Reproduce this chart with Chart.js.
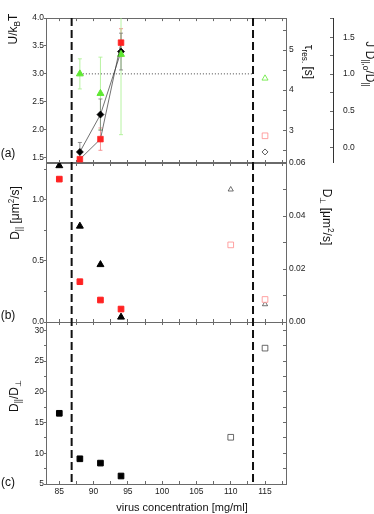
<!DOCTYPE html>
<html>
<head>
<meta charset="utf-8">
<script src="https://cdn.jsdelivr.net/npm/chart.js@4.4.0/dist/chart.umd.min.js"></script>
<style>
  html, body { margin: 0; padding: 0; background: #fff; }
  #wrap { position: relative; width: 374px; height: 514px; }
  #wrap canvas { position: absolute; left: 0; top: 0; }
</style>
</head>
<body>
<div id="wrap">
  <canvas id="chartA" width="374" height="514"></canvas>
  <canvas id="chartB" width="374" height="514"></canvas>
  <canvas id="chartC" width="374" height="514"></canvas>
</div>
<script>
// ---- data ----
const concFilled = [85, 88, 91, 94];
const concA = [88, 91, 94];
const concOpen = [110, 115];
const boundaries = [86.8, 113.25];

// (a) potential barrier U/kBT
const uDiamond = [1.60, 2.27, 3.40];
const uDiamondErr = [0.17, 0.28, 0.33];
const uSquare = [1.47, 1.83, 3.56];
const uSquareErr = [0.04, 0.20, 0.25];
const uTriangle = [3.00, 2.65, 3.35];
const uTriangleErr = [0.27, 0.65, 1.44];
const uLevel = 3.0;
const refX = [115];
const refTriangle = [2.92];
const refSquare = [1.89];
const refDiamond = [1.60];

// (b) diffusion coefficients
const dParTriangle = [1.28, 0.785, 0.47, 0.04];
const dParSquare = [1.17, 0.33, 0.18, 0.106];
const dPerpTriangle = [0.050, 0.0067];
const dPerpSquare = [0.0291, 0.0085];

// (c) anisotropy
const ratioFilled = [16.5, 9.1, 8.4, 6.3];
const ratioOpen = [12.6, 27.1];

// ticks
const xMajor = [85, 90, 95, 100, 105, 110, 115];
const xMinor = [87.5, 92.5, 97.5, 102.5, 107.5, 112.5, 117.5];
const uMajor = [1.5, 2.0, 2.5, 3.0, 3.5, 4.0];
const tauMajor = [3, 4, 5];
const tauMinor = [2.5, 3.5, 4.5, 5.5];
const jMajor = [0, 0.5, 1.0, 1.5];
const jMinor = [0.25, 0.75, 1.25, 1.75];
const dParMajor = [0, 0.5, 1.0];
const dParMinor = [0.25, 0.75, 1.25];
const dPerpMajor = [0, 0.02, 0.04, 0.06];
const dPerpMinor = [0.01, 0.03, 0.05];
const ratioMajor = [5, 10, 15, 20, 25, 30];
const ratioMinor = [7.5, 12.5, 17.5, 22.5, 27.5];

const FONT = '"Liberation Sans", Arial, sans-serif';
const FRAME = '#6a6a6a';
const RED = '#ff2222';
const GREEN = '#5fe832';

Chart.defaults.font.family = FONT;
Chart.defaults.font.size = 8.5;
Chart.defaults.color = '#222';
Chart.defaults.animation = false;

const pts = (xs, ys) => xs.map((x, i) => ({ x: x, y: ys[i] }));
const isIn = (arr, v) => arr.some(m => Math.abs(m - v) < 1e-9);

// x axis; height 0 unless it carries the labels (labels are clipped to the axis box)
function xAxis(pos, labels) {
  return {
    type: 'linear', position: pos, min: 83.06, max: 118.06, bounds: 'data',
    afterBuildTicks: s => { s.ticks = xMajor.concat(xMinor).sort((a, b) => a - b).map(v => ({ value: v })); },
    afterFit: s => { s.height = labels ? 30 : 0; },
    ticks: { display: labels, autoSkip: false, maxRotation: 0, padding: 6,
      callback: v => isIn(xMajor, v) ? String(v) : '' },
    grid: { drawOnChartArea: false, tickLength: -3, tickColor: FRAME },
    border: { display: true, color: FRAME, width: 1 }
  };
}

function yAxis(pos, min, max, major, minor, digits, width, extra) {
  const left = pos === 'left';
  return Object.assign({
    type: 'linear', position: pos, min: min, max: max, bounds: 'data',
    afterBuildTicks: s => { s.ticks = major.concat(minor).sort((a, b) => a - b).map(v => ({ value: v })); },
    afterFit: s => { s.width = width; },
    ticks: { autoSkip: false, padding: left ? 0 : 6,
      callback: v => (digits >= 0 && isIn(major, v)) ? v.toFixed(digits) : '' },
    grid: { drawOnChartArea: false, tickLength: left ? 2 : -3, tickColor: FRAME },
    border: { display: true, color: FRAME, width: 1 }
  }, extra || {});
}

const errorBars = {
  id: 'errorBars',
  beforeDatasetsDraw(chart) {
    const ctx = chart.ctx, area = chart.chartArea;
    ctx.save();
    ctx.beginPath();
    ctx.rect(area.left, area.top, area.width, area.height);
    ctx.clip();
    chart.data.datasets.forEach((ds, i) => {
      if (!ds.errors) return;
      const meta = chart.getDatasetMeta(i);
      const xs = chart.scales[meta.xAxisID], ys = chart.scales[meta.yAxisID];
      ctx.strokeStyle = ds.errorColor;
      ctx.lineWidth = 0.8;
      ds.data.forEach((p, j) => {
        const px = xs.getPixelForValue(p.x);
        const t = ys.getPixelForValue(p.y + ds.errors[j]);
        const b = ys.getPixelForValue(p.y - ds.errors[j]);
        ctx.beginPath();
        ctx.moveTo(px, t); ctx.lineTo(px, b);
        ctx.moveTo(px - 2, t); ctx.lineTo(px + 2, t);
        ctx.moveTo(px - 2, b); ctx.lineTo(px + 2, b);
        ctx.stroke();
      });
    });
    ctx.restore();
  }
};

function baseOptions(padding, scales) {
  return {
    responsive: false, animation: false, events: [],
    layout: { padding: padding, autoPadding: false },
    plugins: { legend: { display: false }, tooltip: { enabled: false } },
    scales: scales
  };
}

// ---- panel (a) ----
const chartA = new Chart(document.getElementById('chartA'), {
  type: 'scatter',
  data: {
    datasets: [
      { data: pts(concA, uSquare), yAxisID: 'yU', showLine: true, borderColor: '#333', borderWidth: 0.7,
        pointStyle: 'rect', pointRadius: 4, pointBackgroundColor: RED, pointBorderColor: RED,
        errors: uSquareErr, errorColor: '#f27a7a' },
      { data: pts(concA, uTriangle), yAxisID: 'yU', pointStyle: 'triangle', pointRadius: 4,
        pointBackgroundColor: GREEN, pointBorderColor: GREEN, errors: uTriangleErr, errorColor: '#a6f08a' },
      { data: pts(concA, uDiamond), yAxisID: 'yU', showLine: true, borderColor: '#333', borderWidth: 0.7,
        pointStyle: 'rectRot', pointRadius: 3.5, pointBackgroundColor: '#000', pointBorderColor: '#000',
        errors: uDiamondErr, errorColor: '#777' },
      { data: [{ x: concA[0], y: uLevel }, { x: boundaries[1], y: uLevel }], yAxisID: 'yU', showLine: true,
        borderColor: '#444', borderWidth: 1, borderDash: [1, 2], pointRadius: 0 },
      { data: pts(refX, refTriangle), yAxisID: 'yU', pointStyle: 'triangle', pointRadius: 3.5,
        pointBackgroundColor: '#fff', pointBorderColor: GREEN, pointBorderWidth: 0.8 },
      { data: pts(refX, refSquare), yAxisID: 'yU', pointStyle: 'rect', pointRadius: 4,
        pointBackgroundColor: '#fff', pointBorderColor: '#ff8a8a', pointBorderWidth: 0.8 },
      { data: pts(refX, refDiamond), yAxisID: 'yU', pointStyle: 'rectRot', pointRadius: 3,
        pointBackgroundColor: '#fff', pointBorderColor: '#333', pointBorderWidth: 0.8 }
    ]
  },
  options: baseOptions({ top: 4, bottom: 351, left: 0, right: 0 }, {
    x: xAxis('bottom', false),
    xTop: xAxis('top', false),
    yU: yAxis('left', 1.402, 4.0, uMajor, [], 1, 46),
    yTau: yAxis('right', 2.18, 5.80, tauMajor, tauMinor, 0, 47, { weight: 0 }),
    yJ: yAxis('right', -0.205, 1.76, jMajor, jMinor, 1, 41,
      { weight: 1, ticks: { autoSkip: false, padding: 13, callback: v => isIn(jMajor, v) ? v.toFixed(1) : '' },
        border: { display: true, color: '#333', width: 1 } })
  }),
  plugins: [errorBars]
});

// ---- panel (b) ----
const chartB = new Chart(document.getElementById('chartB'), {
  type: 'scatter',
  data: {
    datasets: [
      { data: pts(concFilled, dParSquare), yAxisID: 'yPar', pointStyle: 'rect', pointRadius: 4,
        pointBackgroundColor: RED, pointBorderColor: RED },
      { data: pts(concFilled, dParTriangle), yAxisID: 'yPar', pointStyle: 'triangle', pointRadius: 4,
        pointBackgroundColor: '#000', pointBorderColor: '#000' },
      { data: pts(concOpen, dPerpSquare), yAxisID: 'yPerp', pointStyle: 'rect', pointRadius: 4,
        pointBackgroundColor: '#fff', pointBorderColor: '#ff8a8a', pointBorderWidth: 0.8 },
      { data: pts(concOpen, dPerpTriangle), yAxisID: 'yPerp', pointStyle: 'triangle', pointRadius: 3,
        pointBackgroundColor: '#fff', pointBorderColor: '#333', pointBorderWidth: 0.7 }
    ]
  },
  options: baseOptions({ top: 163, bottom: 192, left: 0, right: 0 }, {
    x: xAxis('bottom', false),
    xTop: xAxis('top', false),
    yPar: yAxis('left', 0, 1.302, dParMajor, dParMinor, 1, 46),
    yPerp: yAxis('right', 0, 0.06, dPerpMajor, dPerpMinor, 2, 88)
  })
});

// ---- panel (c) + shared decorations ----
function drawRich(ctx, x, y, rot, parts, size) {
  ctx.save();
  ctx.translate(x, y);
  ctx.rotate(rot);
  ctx.textBaseline = 'middle';
  ctx.textAlign = 'left';
  ctx.fillStyle = '#111';
  const small = size * 0.68;
  let total = 0;
  parts.forEach(p => {
    ctx.font = (p.s ? small : size) + 'px ' + FONT;
    p.w = ctx.measureText(p.t).width;
    total += p.w;
  });
  let cx = -total / 2;
  parts.forEach(p => {
    ctx.font = (p.s ? small : size) + 'px ' + FONT;
    const dy = p.s === 'sub' ? size * 0.35 : (p.s === 'sup' ? -size * 0.38 : 0);
    ctx.fillText(p.t, cx, dy);
    cx += p.w;
  });
  ctx.restore();
}

const decorations = {
  id: 'decorations',
  afterDraw(chart) {
    const ctx = chart.ctx, xs = chart.scales.x;
    const top = chartA.chartArea.top, bottom = chart.chartArea.bottom;
    ctx.save();
    ctx.strokeStyle = '#111';
    ctx.lineWidth = 2;
    ctx.setLineDash([8, 4]);
    boundaries.forEach(v => {
      const px = xs.getPixelForValue(v);
      ctx.beginPath(); ctx.moveTo(px, top); ctx.lineTo(px, bottom); ctx.stroke();
    });
    ctx.restore();

    const up = -Math.PI / 2, down = Math.PI / 2;
    drawRich(ctx, 14, 29, up, [{ t: 'U/k' }, { t: 'B', s: 'sub' }, { t: 'T' }], 12);
    drawRich(ctx, 308, 62, down, [{ t: '\u03c4' }, { t: 'res.', s: 'sub' }, { t: ' [s]' }], 12);
    drawRich(ctx, 369, 64, down, [{ t: 'J D' }, { t: '||,o', s: 'sub' }, { t: '/D' }, { t: '||', s: 'sub' }], 12);
    drawRich(ctx, 16, 213, up, [{ t: 'D' }, { t: '||', s: 'sub' }, { t: ' [\u03bcm' }, { t: '2', s: 'sup' }, { t: '/s]' }], 12);
    drawRich(ctx, 326, 217, down, [{ t: 'D' }, { t: '\u22a5', s: 'sub' }, { t: ' [\u03bcm' }, { t: '2', s: 'sup' }, { t: '/s]' }], 12);
    drawRich(ctx, 15, 396, up, [{ t: 'D' }, { t: '||', s: 'sub' }, { t: '/D' }, { t: '\u22a5', s: 'sub' }], 12);
    drawRich(ctx, 8, 154, 0, [{ t: '(a)' }], 12);
    drawRich(ctx, 8, 316, 0, [{ t: '(b)' }], 12);
    drawRich(ctx, 8, 483, 0, [{ t: '(c)' }], 12);
    drawRich(ctx, 182, 508, 0, [{ t: 'virus concentration [mg/ml]' }], 11);
  }
};

const chartC = new Chart(document.getElementById('chartC'), {
  type: 'scatter',
  data: {
    datasets: [
      { data: pts(concFilled, ratioFilled), yAxisID: 'yR', pointStyle: 'rect', pointRadius: 4,
        pointBackgroundColor: '#000', pointBorderColor: '#000' },
      { data: pts(concOpen, ratioOpen), yAxisID: 'yR', pointStyle: 'rect', pointRadius: 4,
        pointBackgroundColor: '#fff', pointBorderColor: '#444', pointBorderWidth: 0.8 }
    ]
  },
  options: baseOptions({ top: 322, bottom: 0, left: 0, right: 0 }, {
    x: xAxis('bottom', true),
    xTop: xAxis('top', false),
    yR: yAxis('left', 5, 31.35, ratioMajor, ratioMinor, 0, 46),
    yR2: yAxis('right', 5, 31.35, ratioMajor, ratioMinor, -1, 88)
  }),
  plugins: [decorations]
});
</script>
</body>
</html>
